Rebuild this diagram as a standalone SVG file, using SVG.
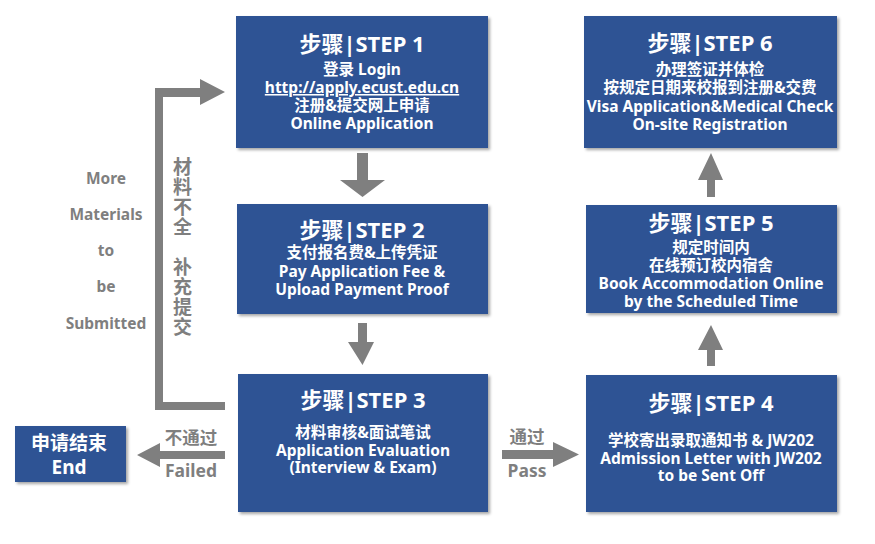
<svg xmlns="http://www.w3.org/2000/svg" width="875" height="544" viewBox="0 0 875 544">
<defs>
<filter id="sh" x="-10%" y="-10%" width="130%" height="130%">
<feDropShadow dx="2" dy="2" stdDeviation="1.5" flood-color="#000" flood-opacity="0.35"/>
</filter>
<style>
.box{fill:#2D5394;filter:url(#sh);}
.t{font-family:"Noto Sans","Noto Sans CJK SC",sans-serif;font-weight:bold;fill:#fff;text-anchor:middle;}
.h{font-size:22px;}
.b{font-size:15.5px;}
.g{font-family:"Noto Sans","Noto Sans CJK SC",sans-serif;font-weight:bold;fill:#7f7f7f;text-anchor:middle;}
.ar{fill:#7f7f7f;}
</style>
</defs>
<rect width="875" height="544" fill="#fff"/>
<g id="connectors">
<polygon class="ar" points="357,153 368,153 368,180 385,180 362.5,197 340,180 357,180"/>
<polygon class="ar" points="358,323 367,323 367,342 374,342 362.5,365 348,342 358,342"/>
<polygon class="ar" points="707,197 715,197 715,180 723,180 711,153 698,180 707,180"/>
<polygon class="ar" points="707,366 715,366 715,350 723,350 711,325 698,350 707,350"/>
<polygon class="ar" points="502,450 553,450 553,442 579,454.5 553,467 553,459 502,459"/>
<polygon class="ar" points="225,451 160,451 160,443 137,455 160,467 160,459 225,459"/>
<polygon class="ar" points="225,402 163,402 163,97 200,97 200,105 225,92 200,79 200,88 155,88 155,410 225,410"/>
<text class="g" x="527" y="443" font-size="17.5">通过</text>
<text class="g" x="527" y="477" font-size="17.5">Pass</text>
<text class="g" x="191" y="444" font-size="17.5">不通过</text>
<text class="g" x="191" y="477" font-size="17.5">Failed</text>
<text class="g" x="181" y="157" font-size="19" writing-mode="vertical-rl" letter-spacing="1" style="text-anchor:start">材料不全　补充提交</text>
<g class="g" font-size="15.5" fill="#8c8c8c">
<text x="106" y="184">More</text>
<text x="106" y="220">Materials</text>
<text x="106" y="256">to</text>
<text x="106" y="292">be</text>
<text x="106" y="329">Submitted</text>
</g>
</g>
<g id="step1">
<rect class="box" x="236" y="16" width="252" height="132"/>
<text class="t h" x="362" y="52">步骤|STEP 1</text>
<text class="t b" x="362" y="75">登录 Login</text>
<text class="t b" x="362" y="93" text-decoration="underline">http://apply.ecust.edu.cn</text>
<text class="t b" x="362" y="111">注册&amp;提交网上申请</text>
<text class="t b" x="362" y="129">Online Application</text>
</g>
<g id="step2">
<rect class="box" x="237" y="204" width="251" height="110"/>
<text class="t h" x="362" y="238">步骤|STEP 2</text>
<text class="t b" x="362" y="258">支付报名费&amp;上传凭证</text>
<text class="t b" x="362" y="277">Pay Application Fee &amp;</text>
<text class="t b" x="362" y="295">Upload Payment Proof</text>
</g>
<g id="step3">
<rect class="box" x="238" y="374" width="250" height="138"/>
<text class="t h" x="363" y="408">步骤|STEP 3</text>
<text class="t b" x="363" y="438">材料审核&amp;面试笔试</text>
<text class="t b" x="363" y="456">Application Evaluation</text>
<text class="t b" x="363" y="473">(Interview &amp; Exam)</text>
</g>
<g id="step4">
<rect class="box" x="586" y="375" width="251" height="137"/>
<text class="t h" x="711" y="411">步骤|STEP 4</text>
<text class="t b" x="711" y="446">学校寄出录取通知书 &amp; JW202</text>
<text class="t b" x="711" y="464">Admission Letter with JW202</text>
<text class="t b" x="711" y="481">to be Sent Off</text>
</g>
<g id="step5">
<rect class="box" x="586" y="205" width="251" height="108"/>
<text class="t h" x="711" y="231">步骤|STEP 5</text>
<text class="t b" x="711" y="253">规定时间内</text>
<text class="t b" x="711" y="271">在线预订校内宿舍</text>
<text class="t b" x="711" y="289">Book Accommodation Online</text>
<text class="t b" x="711" y="307">by the Scheduled Time</text>
</g>
<g id="step6">
<rect class="box" x="584" y="16" width="253" height="132"/>
<text class="t h" x="710" y="51">步骤|STEP 6</text>
<text class="t b" x="710" y="75">办理签证并体检</text>
<text class="t b" x="710" y="93">按规定日期来校报到注册&amp;交费</text>
<text class="t b" x="710" y="112">Visa Application&amp;Medical Check</text>
<text class="t b" x="710" y="130">On-site Registration</text>
</g>
<g id="end">
<rect class="box" x="15" y="426" width="111" height="56"/>
<text class="t" x="69" y="450" font-size="19">申请结束</text>
<text class="t" x="69" y="474" font-size="19">End</text>
</g>
</svg>
